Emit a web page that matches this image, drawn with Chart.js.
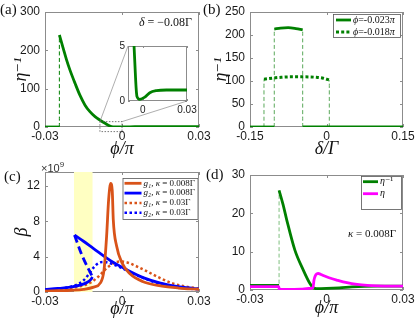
<!DOCTYPE html>
<html>
<head>
<meta charset="utf-8">
<script src="https://cdn.jsdelivr.net/npm/chart.js@4.4.0/dist/chart.umd.min.js"></script>
<style>
  html, body { margin: 0; padding: 0; background: #fff; }
  #page { position: relative; width: 415px; height: 325px; overflow: hidden; }
  #page canvas { position: absolute; left: 0; top: 0; }
  .lbl { position: absolute; font-family: "Liberation Serif", "Times New Roman", serif; color: #111; white-space: nowrap; line-height: 1; }
  .sans { font-family: "Liberation Sans", Arial, sans-serif; color: #333; }
</style>
</head>
<body>
<div id="page">
  <canvas id="chart-a" width="415" height="325"></canvas>
  <canvas id="chart-b" width="415" height="325"></canvas>
  <canvas id="chart-c" width="415" height="325"></canvas>
  <canvas id="chart-d" width="415" height="325"></canvas>
  <canvas id="chart-inset" width="415" height="325"></canvas>

  <div class="lbl" style="left:0px;top:2px;font-size:15px">(a)</div>
  <div class="lbl" style="left:203px;top:2px;font-size:15px">(b)</div>
  <div class="lbl" style="left:4px;top:169px;font-size:15px">(c)</div>
  <div class="lbl" style="left:206px;top:167px;font-size:15px">(d)</div>
  <div class="lbl" style="left:139px;top:16px;font-size:12px"><i>δ</i> = −0.08Γ</div>
  <div class="lbl" style="left:348px;top:228px;font-size:11px"><i>κ</i> = 0.008Γ</div>
  <div class="lbl sans" style="left:41px;top:161px;font-size:11px">×10<sup style="font-size:8px">9</sup></div>
</div>
<script>
// ---- (a) inverse efficiency vs phi, delta = -0.08 Gamma ----
const phiA0 = [-0.03, -0.0244];
const etaInvA0 = [0, 0];
const phiA = [-0.0244, -0.0229, -0.0216, -0.0203, -0.0183, -0.0164, -0.0144, -0.0125, -0.0105, -0.0086, -0.0066, -0.0047, -0.0035, -0.002, 0.001, 0.005, 0.01, 0.02, 0.03];
const etaInvA = [240, 205, 175, 149, 114, 83, 57, 40, 27, 18, 9.6, 2.6, 0.6, 0.2, 0.3, 0.8, 1.0, 1.0, 1.0];
const zoomBoxPhi = [-0.0086, 0];
const zoomBoxEta = [-12, 14];

// inset of (a)
const phiInset = [-0.0062, -0.0059, -0.0052, -0.0045, -0.0039, -0.002, 0.0014, 0.0048, 0.0093, 0.016, 0.03];
const etaInvInset = [6, 5, 3.0, 1.2, 0.4, 0.15, 0.35, 0.75, 0.94, 1.0, 1.0];

// ---- (b) inverse efficiency vs delta ----
const deltaB1 = [-0.1024, -0.09, -0.075, -0.06, -0.0467];
const etaInvB1 = [213, 215, 216, 214, 211];
const deltaB1zeroL = [-0.15, -0.1024];
const deltaB1zeroR = [-0.0467, 0.15];
const deltaB2 = [-0.1226, -0.1, -0.0887, -0.07, -0.0422, -0.02, -0.0063, 0.0055];
const etaInvB2 = [104, 107, 108, 109, 109, 108, 106, 102];

// ---- (c) beta (x1e9) vs phi ----
const phiC1 = [-0.03, -0.025, -0.02, -0.015, -0.011, -0.0085, -0.007, -0.006, -0.0052, -0.0044, -0.0038, -0.0034, -0.0021, 0, 0.003, 0.008, 0.015, 0.022, 0.03];
const betaC1 = [0.1, 0.15, 0.2, 0.3, 0.55, 1.0, 2.5, 6.3, 10.5, 12.3, 11.5, 8.2, 5.2, 3.3, 2.1, 1.2, 0.7, 0.45, 0.3];
const phiC2up = [-0.0185, -0.015, -0.0112, -0.0045, 0.002, 0.0085, 0.015, 0.02, 0.025, 0.03];
const betaC2up = [6.45, 5.75, 4.95, 3.55, 2.5, 1.6, 1.0, 0.7, 0.48, 0.35];
const phiC2low = [-0.03, -0.025, -0.02, -0.016, -0.0135, -0.0122, -0.0115];
const betaC2low = [0.3, 0.4, 0.55, 0.8, 1.1, 1.4, 1.7];
const phiC2mid = [-0.0185, -0.0155, -0.0115];
const betaC2mid = [6.45, 4.1, 1.7];
const phiC3 = [-0.03, -0.025, -0.02, -0.015, -0.012, -0.009, -0.006, -0.003, -0.001, 0.002, 0.005, 0.01, 0.015, 0.02, 0.025, 0.03];
const betaC3 = [0.2, 0.3, 0.45, 0.75, 1.1, 1.8, 2.7, 3.3, 3.45, 3.35, 3.0, 2.3, 1.55, 0.95, 0.6, 0.4];
const phiC4 = [-0.03, -0.025, -0.02, -0.017, -0.015, -0.013, -0.011, -0.009, -0.007, -0.004, 0, 0.005, 0.01, 0.015, 0.02, 0.025, 0.03];
const betaC4 = [0.25, 0.35, 0.6, 0.9, 1.3, 2.0, 2.8, 3.3, 3.4, 3.2, 2.7, 2.0, 1.4, 0.9, 0.6, 0.4, 0.3];
const bandC = [-0.0187, -0.0114];
const betaMaxC = 13.6;

// ---- (d) eta^-1 and eta vs phi, kappa = 0.008 Gamma ----
const phiD0 = [-0.03, -0.0186];
const etaInvD0 = [1.2, 1.2];
const phiD1 = [-0.0186, -0.017, -0.0156, -0.0124, -0.0091, -0.0065, -0.0052, -0.004, 0, 0.005, 0.01, 0.015, 0.02, 0.03];
const etaInvD1 = [26, 22.2, 18.3, 10.4, 5.2, 1.7, 0.6, 0.35, 0.4, 0.55, 0.8, 0.95, 1.0, 1.0];
const phiD2 = [-0.03, -0.0187, -0.0185, -0.015, -0.01, -0.007, -0.0053, -0.0049, -0.0044, -0.0038, -0.0032, -0.0025, -0.001, 0.001, 0.004, 0.008, 0.012, 0.016, 0.02, 0.03];
const etaD2 = [0.9, 0.9, 0.15, 0.15, 0.25, 0.4, 0.6, 2.6, 3.7, 4.2, 4.3, 4.15, 3.7, 3.2, 2.6, 1.9, 1.45, 1.2, 1.08, 1.0];

// ticks
const ticksPhi = [-0.03, 0, 0.03];
const labelsPhi = ['-0.03', '0', '0.03'];
const ticksDelta = [-0.15, 0, 0.15];
const labelsDelta = ['-0.15', '0', '0.15'];
const ticksA = [0, 100, 200, 300];
const ticksB = [0, 50, 100, 150, 200, 250];
const ticksC = [0, 4, 8, 12];
const ticksD = [0, 10, 20, 30];
const ticksInsetX = [0, 0.03];
const labelsInsetX = ['0', '0.03'];
const ticksInsetY = [0, 5];

const GREEN = '#008000', LIGHTGREEN = '#5aa85a', ORANGE = '#d95319', BLUE = '#0000ff', MAGENTA = '#ff00ff';
const SANS = '"Liberation Sans", Arial, sans-serif';
const TITLE_FONT = { family: '"Liberation Serif", "DejaVu Serif", serif', size: 18, style: 'italic' };

function line(xs, ys, color, extra) {
  return Object.assign({
    data: xs.map((x, i) => ({ x: x, y: ys[i] })),
    borderColor: color,
    borderWidth: 2.8,
    pointRadius: 0,
    fill: false,
    cubicInterpolationMode: 'monotone'
  }, extra || {});
}

function jump(x, y0, y1, color) {
  return line([x, x], [y0, y1], color, { borderWidth: 1, borderDash: [4, 2.5] });
}

function axis(horiz, a) {
  return {
    type: 'linear',
    min: a.min,
    max: a.max,
    afterBuildTicks: s => { s.ticks = a.ticks.map(v => ({ value: v })); },
    afterFit: s => {
      if (horiz) s.height = a.size; else s.width = a.size;
      s.paddingLeft = s.paddingRight = s.paddingTop = s.paddingBottom = 0;
    },
    grid: { display: false, drawTicks: false },
    border: { display: false },
    ticks: {
      autoSkip: false,
      maxRotation: 0,
      padding: a.tickPad,
      color: '#1a1a1a',
      font: { family: SANS, size: a.fontSize || 12 },
      callback: (v, i) => (a.labels ? a.labels[i] : String(v))
    },
    title: a.title
      ? { display: true, text: a.title, color: '#111', font: TITLE_FONT, padding: a.titlePad }
      : { display: false }
  };
}

// box with inward tick marks on all four sides
const framePlugin = {
  id: 'frame',
  beforeDatasetsDraw(chart, args, o) {
    const ctx = chart.ctx, a = chart.chartArea, len = o.tick || 3;
    const sx = chart.scales.x, sy = chart.scales.y;
    ctx.save();
    ctx.strokeStyle = '#8c8c8c';
    ctx.lineWidth = 1;
    ctx.strokeRect(a.left + 0.5, a.top + 0.5, a.right - a.left - 1, a.bottom - a.top - 1);
    ctx.beginPath();
    sx.ticks.forEach(t => {
      const p = Math.round(sx.getPixelForValue(t.value)) + 0.5;
      ctx.moveTo(p, a.bottom); ctx.lineTo(p, a.bottom - len);
      ctx.moveTo(p, a.top); ctx.lineTo(p, a.top + len);
    });
    sy.ticks.forEach(t => {
      const p = Math.round(sy.getPixelForValue(t.value)) + 0.5;
      ctx.moveTo(a.left, p); ctx.lineTo(a.left + len, p);
      ctx.moveTo(a.right, p); ctx.lineTo(a.right - len, p);
    });
    ctx.stroke();
    ctx.restore();
  }
};

// boxed legend inside the plot area
const boxLegend = {
  id: 'boxLegend',
  afterDraw(chart, args, o) {
    if (!o.items) return;
    const ctx = chart.ctx, a = chart.chartArea;
    const x0 = a.right - o.right - o.width, y0 = a.top + o.top;
    ctx.save();
    ctx.fillStyle = '#fff';
    ctx.fillRect(x0, y0, o.width, o.height);
    ctx.strokeStyle = '#555';
    ctx.lineWidth = 0.8;
    ctx.strokeRect(x0 + 0.5, y0 + 0.5, o.width - 1, o.height - 1);
    o.items.forEach((it, i) => {
      const ds = chart.data.datasets[it.ds];
      const y = y0 + o.first + i * o.rowH;
      ctx.strokeStyle = ds.borderColor;
      ctx.lineWidth = ds.borderWidth;
      ctx.setLineDash(ds.borderDash || []);
      ctx.beginPath();
      ctx.moveTo(x0 + o.sx, y);
      ctx.lineTo(x0 + o.sx + o.len, y);
      ctx.stroke();
      ctx.setLineDash([]);
      let tx = x0 + o.sx + o.len + o.gap;
      ctx.fillStyle = '#111';
      ctx.textBaseline = 'middle';
      it.text.forEach(([s, st]) => {
        ctx.font = (st === 'i' ? 'italic ' : '') + o.size + 'px "Liberation Serif", "DejaVu Serif", serif';
        ctx.fillText(s, tx, y);
        tx += ctx.measureText(s).width;
      });
    });
    ctx.restore();
  }
};

Chart.register(framePlugin, boxLegend);

function makeChart(id, datasets, o) {
  return new Chart(document.getElementById(id), {
    type: 'line',
    data: { datasets: datasets },
    options: {
      responsive: false,
      animation: false,
      devicePixelRatio: 1,
      events: [],
      layout: { padding: o.pad },
      scales: { x: axis(true, o.x), y: axis(false, o.y) },
      plugins: {
        legend: { display: false },
        tooltip: { enabled: false },
        frame: { tick: o.tick || 3 },
        boxLegend: o.legend || {}
      }
    },
    plugins: o.plugins || []
  });
}

// dotted zoom rectangle in (a)
const zoomRect = {
  id: 'zoomRect',
  afterDatasetsDraw(chart) {
    const ctx = chart.ctx, sx = chart.scales.x, sy = chart.scales.y;
    const x0 = sx.getPixelForValue(zoomBoxPhi[0]), x1 = sx.getPixelForValue(zoomBoxPhi[1]);
    const y0 = sy.getPixelForValue(zoomBoxEta[1]), y1 = sy.getPixelForValue(zoomBoxEta[0]);
    ctx.save();
    ctx.strokeStyle = '#555';
    ctx.lineWidth = 0.8;
    ctx.setLineDash([1.5, 1.5]);
    ctx.strokeRect(x0, y0, x1 - x0, y1 - y0);
    ctx.restore();
  }
};

const chartA = makeChart('chart-a', [
  line(phiA, etaInvA, GREEN),
  line(phiA0, etaInvA0, GREEN),
  jump(phiA[0], 0, etaInvA[0], GREEN)
], {
  pad: { left: 0, top: 12, right: 216, bottom: 163 },
  x: { min: -0.03, max: 0.03, ticks: ticksPhi, labels: labelsPhi, size: 35, tickPad: 2, title: 'ϕ/π', titlePad: { top: 0, bottom: 1.5 } },
  y: { min: 0, max: 300, ticks: ticksA, size: 45, tickPad: 5, title: 'η⁻¹', titlePad: { top: 10, bottom: 0 } },
  plugins: [zoomRect]
});

// lines from the zoom rectangle to the inset
const connectors = {
  id: 'connectors',
  afterDraw(chart) {
    const sx = chartA.scales.x, sy = chartA.scales.y, a = chart.chartArea, ctx = chart.ctx;
    const xl = sx.getPixelForValue(zoomBoxPhi[0]), xr = sx.getPixelForValue(zoomBoxPhi[1]);
    const yt = sy.getPixelForValue(zoomBoxEta[1]);
    ctx.save();
    ctx.strokeStyle = '#777';
    ctx.lineWidth = 0.6;
    ctx.beginPath();
    ctx.moveTo(xl, yt); ctx.lineTo(a.left, a.top);
    ctx.moveTo(xr, yt); ctx.lineTo(a.right, a.bottom);
    ctx.stroke();
    ctx.restore();
  }
};

makeChart('chart-b', [
  line(deltaB1, etaInvB1, GREEN),
  line(deltaB1zeroL, [0, 0], GREEN),
  line(deltaB1zeroR, [0, 0], GREEN),
  line(deltaB2, etaInvB2, GREEN, { borderWidth: 3, borderDash: [3, 2.2] }),
  jump(deltaB1[0], 0, etaInvB1[0], LIGHTGREEN),
  jump(deltaB1[deltaB1.length - 1], 0, etaInvB1[etaInvB1.length - 1], LIGHTGREEN),
  jump(deltaB2[0], 0, etaInvB2[0], LIGHTGREEN),
  jump(deltaB2[deltaB2.length - 1], 0, etaInvB2[etaInvB2.length - 1], LIGHTGREEN)
], {
  pad: { left: 205, top: 12, right: 12, bottom: 163 },
  x: { min: -0.15, max: 0.15, ticks: ticksDelta, labels: labelsDelta, size: 35, tickPad: 2, title: 'δ/Γ', titlePad: { top: 0, bottom: 1.5 } },
  y: { min: 0, max: 250, ticks: ticksB, size: 45, tickPad: 5, title: 'η⁻¹', titlePad: { top: 5, bottom: 0 } },
  legend: {
    right: 2, top: 2, width: 68, height: 24, first: 6, rowH: 12, sx: 3, len: 15, gap: 2, size: 10,
    items: [
      { ds: 0, text: [['ϕ', 'i'], ['=-0.023', ''], ['π', 'i']] },
      { ds: 3, text: [['ϕ', 'i'], ['=-0.018', ''], ['π', 'i']] }
    ]
  }
});

makeChart('chart-c', [
  line(phiC1, betaC1, ORANGE),
  line(phiC2up, betaC2up, BLUE),
  line(phiC2low, betaC2low, BLUE),
  line(phiC2mid, betaC2mid, BLUE, { borderDash: [8, 4] }),
  line(phiC3, betaC3, ORANGE, { borderWidth: 2.5, borderDash: [2.5, 2.5] }),
  line(phiC4, betaC4, BLUE, { borderWidth: 2.5, borderDash: [2.5, 2.5] }),
  line(bandC, [betaMaxC, betaMaxC], '#ffffc2', { borderWidth: 0, fill: 'origin', backgroundColor: '#ffffc2', cubicInterpolationMode: 'default' })
], {
  pad: { left: 0, top: 172, right: 216, bottom: 3 },
  x: { min: -0.03, max: 0.03, ticks: ticksPhi, labels: labelsPhi, size: 30, tickPad: 2, title: 'ϕ/π', titlePad: { top: 0, bottom: 2 } },
  y: { min: 0, max: betaMaxC, ticks: ticksC, size: 45, tickPad: 5, title: 'β', titlePad: { top: 11, bottom: 0 } },
  legend: {
    right: 0.5, top: 6, width: 76, height: 42, first: 5.3, rowH: 9.8, sx: 2, len: 17, gap: 2, size: 9,
    items: [
      { ds: 0, text: [['g₁', 'i'], [', ', ''], ['κ', 'i'], [' = 0.008Γ', '']] },
      { ds: 1, text: [['g₂', 'i'], [', ', ''], ['κ', 'i'], [' = 0.008Γ', '']] },
      { ds: 4, text: [['g₁', 'i'], [', ', ''], ['κ', 'i'], [' = 0.03Γ', '']] },
      { ds: 5, text: [['g₂', 'i'], [', ', ''], ['κ', 'i'], [' = 0.03Γ', '']] }
    ]
  }
});

makeChart('chart-d', [
  line(phiD2, etaD2, MAGENTA),
  line(phiD1, etaInvD1, GREEN),
  line(phiD0, etaInvD0, GREEN),
  jump(phiD1[0], 0, etaInvD1[0], '#7fbf7f')
], {
  pad: { left: 205, top: 175, right: 12, bottom: 5 },
  x: { min: -0.03, max: 0.03, ticks: ticksPhi, labels: labelsPhi, size: 30, tickPad: 2, title: 'ϕ/π', titlePad: { top: 0, bottom: 1 } },
  y: { min: 0, max: 30, ticks: ticksD, size: 45, tickPad: 5 },
  legend: {
    right: 1, top: 1, width: 41, height: 34, first: 5.7, rowH: 12, sx: 2, len: 15, gap: 2, size: 10,
    items: [
      { ds: 1, text: [['η', 'i'], ['⁻¹', '']] },
      { ds: 0, text: [['η', 'i']] }
    ]
  }
});

makeChart('chart-inset', [
  line(phiInset, etaInvInset, GREEN)
], {
  pad: { left: 118, top: 46, right: 228, bottom: 204 },
  tick: 2,
  x: { min: -0.01, max: 0.03, ticks: ticksInsetX, labels: labelsInsetX, size: 20, tickPad: 3, fontSize: 10 },
  y: { min: 0, max: 5, ticks: ticksInsetY, size: 10, tickPad: 3, fontSize: 10 },
  plugins: [connectors]
});
</script>
</body>
</html>
